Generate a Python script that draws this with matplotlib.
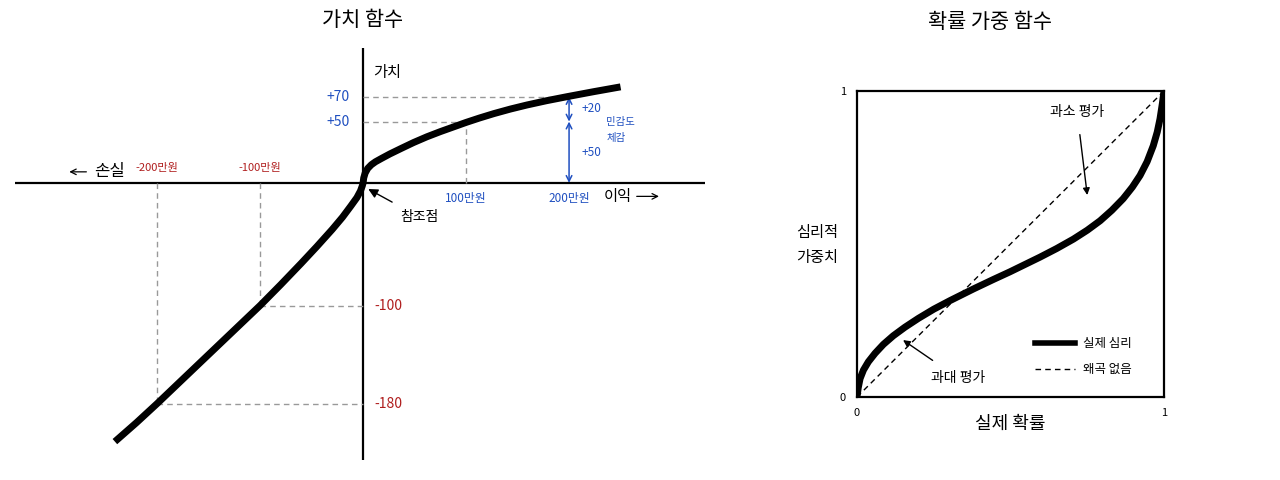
import matplotlib
matplotlib.use("Agg")
import matplotlib.pyplot as plt

plt.rcParams['font.family'] = ['Noto Sans CJK KR', 'DejaVu Sans']

# ── data: value function (x in 100만원, y in value) ──────
gain_x = [0, 0.006, 0.02, 0.045, 0.08, 0.12, 0.18, 0.26, 0.375, 0.49, 0.62,
          0.75, 0.88, 1.0, 1.13, 1.27, 1.43, 1.59, 1.78, 1.98, 2.24, 2.5]
gain_y = [0, 4, 8, 11.8, 14.8, 17.2, 20, 23.6, 28.3, 32.9, 37.6,
          41.8, 45.7, 49.3, 52.9, 56.5, 60.2, 63.5, 67.0, 70.3, 74.4, 78.3]
loss_x = [-2.41, -2.2, -2.0, -1.8, -1.6, -1.4, -1.2, -1.0, -0.8, -0.6,
          -0.45, -0.3, -0.2, -0.12, -0.06, -0.025, -0.008, 0]
loss_y = [-211, -195.5, -180, -164, -148, -132, -116, -100, -83, -65.5,
          -52, -38, -28, -19, -12, -6.5, -2.5, 0]

gain_ticks = [1, 2]
gain_vals = [50, 70]
gain_tick_labels = ['100만원', '200만원']
gain_val_labels = ['+50', '+70']
loss_ticks = [-1, -2]
loss_vals = [-100, -180]
loss_tick_labels = ['-100만원', '-200만원']
loss_val_labels = ['-100', '-180']

# ── data: probability weighting ──────────────────────────
prob = [0, 0.004, 0.01, 0.021, 0.037, 0.059, 0.086, 0.118, 0.156, 0.2, 0.25,
        0.303, 0.379, 0.444, 0.498, 0.596, 0.65, 0.705, 0.75, 0.792, 0.83,
        0.867, 0.897, 0.922, 0.945, 0.965, 0.978, 0.987, 0.995, 1.0]
weight = [0, 0.03, 0.06, 0.088, 0.115, 0.143, 0.172, 0.2, 0.228, 0.257, 0.287,
          0.315, 0.353, 0.384, 0.409, 0.457, 0.485, 0.516, 0.545, 0.576, 0.61,
          0.648, 0.686, 0.724, 0.769, 0.821, 0.866, 0.909, 0.961, 1.0]
diag = [0, 1]

BLUE = '#1f4fc0'
RED = '#b01e1e'
GRAY = '#999999'

fig = plt.figure(figsize=(12.8, 4.8), dpi=100)

# ── left: value function ────────────────────────────────
ax = fig.add_axes([15/1280, 20/480, 690/1280, 412/480])
ax.set_xlim(-3.38, 3.32)
ax.set_ylim(-226, 110)
ax.axis('off')
ax.axhline(0, color='black', lw=1.6)
ax.axvline(0, color='black', lw=1.6)

dash = dict(color=GRAY, lw=1, ls=(0, (4, 3)))
for gx, gv in zip(gain_ticks, gain_vals):
    ax.plot([0, gx], [gv, gv], **dash)
ax.plot([gain_ticks[0], gain_ticks[0]], [0, gain_vals[0]], **dash)
for lx, lv in zip(loss_ticks, loss_vals):
    ax.plot([lx, lx], [0, lv], **dash)
    ax.plot([lx, 0], [lv, lv], **dash)

ax.plot(loss_x + gain_x[1:], loss_y + gain_y[1:], color='black', lw=5,
        solid_capstyle='butt', solid_joinstyle='round', zorder=5)

for gx, lab in zip(gain_ticks, gain_tick_labels):
    ax.text(gx, -13, lab, color=BLUE, fontsize=8.5, ha='center', va='center')
for gv, lab in zip(gain_vals, gain_val_labels):
    ax.text(-0.13, gv, lab, color=BLUE, fontsize=10, ha='right', va='center')
for lx, lab in zip(loss_ticks, loss_tick_labels):
    ax.text(lx, 12, lab, color=RED, fontsize=8, ha='center', va='center')
for lv, lab in zip(loss_vals, loss_val_labels):
    ax.text(0.11, lv, lab, color=RED, fontsize=10, ha='left', va='center')

ax.text(0.1, 90, '가치', fontsize=11, ha='left', va='center')
ax.text(2.47, -11, '이익', fontsize=11, ha='center', va='center')
ax.annotate('', xy=(2.9, -11), xytext=(2.63, -11),
            arrowprops=dict(arrowstyle='->', color='black', lw=0.9))
ax.text(-2.46, 9, '손실', fontsize=12, ha='center', va='center')
ax.annotate('', xy=(-2.88, 9), xytext=(-2.66, 9),
            arrowprops=dict(arrowstyle='->', color='black', lw=0.9))

ax.annotate('참조점', xy=(0.05, -5), xytext=(0.55, -28), fontsize=10,
            ha='center', va='center',
            arrowprops=dict(arrowstyle='-|>', color='black', lw=1,
                            mutation_scale=14, shrinkA=8, shrinkB=0))

# sensitivity arrows
ax.annotate('', xy=(2, 0), xytext=(2, 50),
            arrowprops=dict(arrowstyle='<->', color=BLUE, lw=1.1,
                            shrinkA=0, shrinkB=0))
ax.annotate('', xy=(2, 50), xytext=(2, 70),
            arrowprops=dict(arrowstyle='<->', color=BLUE, lw=1.1,
                            shrinkA=0, shrinkB=0))
ax.text(2.12, 61, '+20', color=BLUE, fontsize=8.5, ha='left', va='center')
ax.text(2.12, 25, '+50', color=BLUE, fontsize=8.5, ha='left', va='center')
ax.text(2.36, 43, '민감도\n체감', color=BLUE, fontsize=7.5, ha='left',
        va='center', linespacing=1.8)

fig.text(363/1280, 1 - 20/480, '가치 함수', fontsize=15, ha='center', va='center')

# ── right: probability weighting ───────────────────────
bx = fig.add_axes([857/1280, 83/480, 307/1280, 306/480])
bx.set_xlim(0, 1)
bx.set_ylim(0, 1)
for s in bx.spines.values():
    s.set_linewidth(1.6)
bx.set_xticks([0, 1])
bx.set_yticks([0, 1])
bx.set_xticklabels(['0', '1'])
bx.set_yticklabels(['0', '1'])
bx.tick_params(length=0, labelsize=8, pad=8)

bx.plot(diag, diag, color='black', lw=1, ls=(0, (4, 3)))
bx.plot(prob, weight, color='black', lw=5, solid_capstyle='butt',
        solid_joinstyle='round')

# legend drawn by hand to match positions
bx.plot([0.58, 0.71], [0.176, 0.176], color='black', lw=4)
bx.plot([0.58, 0.71], [0.09, 0.09], color='black', lw=1, ls=(0, (4, 3)))
bx.text(0.735, 0.176, '실제 심리', fontsize=9, ha='left', va='center')
bx.text(0.735, 0.09, '왜곡 없음', fontsize=9, ha='left', va='center')

bx.annotate('과소 평가', xy=(0.75, 0.66), xytext=(0.717, 0.93), fontsize=10,
            ha='center', va='center',
            arrowprops=dict(arrowstyle='-|>', color='black', lw=1,
                            shrinkA=9, shrinkB=0))
bx.annotate('과대 평가', xy=(0.15, 0.186), xytext=(0.33, 0.062), fontsize=10,
            ha='center', va='center',
            arrowprops=dict(arrowstyle='-|>', color='black', lw=1,
                            shrinkA=10, shrinkB=0))

fig.text(817/1280, 1 - 245/480, '심리적\n가중치', fontsize=11, ha='center',
         va='center', linespacing=1.6)
fig.text(1010/1280, 1 - 424/480, '실제 확률', fontsize=13, ha='center', va='center')
fig.text(990/1280, 1 - 22/480, '확률 가중 함수', fontsize=15, ha='center', va='center')

fig.savefig('out.png', dpi=100)
